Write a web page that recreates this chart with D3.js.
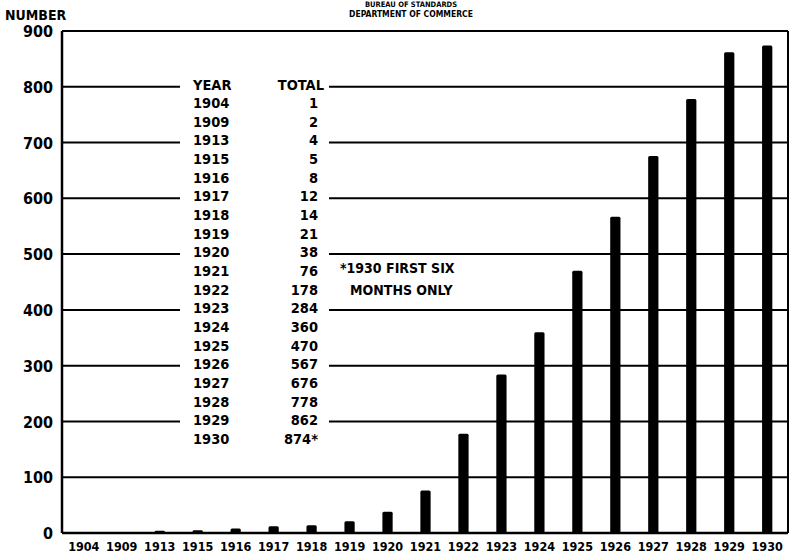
<!DOCTYPE html>
<html>
<head>
<meta charset="utf-8">
<script src="https://cdn.jsdelivr.net/npm/d3@7/dist/d3.min.js"></script>
<style>
  html, body { margin: 0; padding: 0; background: #fff; }
  svg text { font-family: "DejaVu Sans Condensed", "Liberation Sans Narrow", sans-serif; font-weight: bold; fill: #000; }
</style>
</head>
<body>
<svg id="chart" width="797" height="557"></svg>
<script>
// Radio broadcasting stations licensed per year (1930: first six months only)
const years = ["1904","1909","1913","1915","1916","1917","1918","1919","1920","1921",
               "1922","1923","1924","1925","1926","1927","1928","1929","1930"];
const totals = [1, 2, 4, 5, 8, 12, 14, 21, 38, 76, 178, 284, 360, 470, 567, 676, 778, 862, 874];
const yTicks = [0, 100, 200, 300, 400, 500, 600, 700, 800, 900];
// gridlines interrupted by the inset table
const brokenLines = [200, 300, 400, 500, 600, 700, 800];

const svg = d3.select("#chart");
const plotLeft = 62, plotRight = 788, plotTop = 31, plotBottom = 533;

const x = d3.scaleBand().domain(years).range([65, 786]).paddingInner(0.73).paddingOuter(0.36);
const y = d3.scaleLinear().domain([0, 900]).range([plotBottom, plotTop]);

// header
svg.append("text").attr("x", 5).attr("y", 20).attr("font-size", 14).text("NUMBER");
svg.append("text").attr("x", 411).attr("y", 6.5).attr("text-anchor", "middle").attr("font-size", 7.5).text("BUREAU OF STANDARDS");
svg.append("text").attr("x", 411).attr("y", 17).attr("text-anchor", "middle").attr("font-size", 8.5).text("DEPARTMENT OF COMMERCE");

// gridlines
const g = svg.append("g").attr("stroke", "#000").attr("stroke-width", 2);
yTicks.filter(v => v > 0).forEach(v => {
  if (brokenLines.includes(v)) {
    g.append("line").attr("x1", plotLeft).attr("x2", 180).attr("y1", y(v)).attr("y2", y(v));
    g.append("line").attr("x1", 329).attr("x2", plotRight).attr("y1", y(v)).attr("y2", y(v));
  } else {
    g.append("line").attr("x1", plotLeft).attr("x2", plotRight).attr("y1", y(v)).attr("y2", y(v));
  }
});
// frame: left axis, right edge, baseline
g.append("line").attr("x1", plotLeft).attr("x2", plotLeft).attr("y1", plotTop).attr("y2", plotBottom).attr("stroke-width", 2.5);
g.append("line").attr("x1", plotRight).attr("x2", plotRight).attr("y1", plotTop).attr("y2", plotBottom).attr("stroke-width", 2);
g.append("line").attr("x1", plotLeft).attr("x2", plotRight).attr("y1", plotBottom).attr("y2", plotBottom).attr("stroke-width", 2.5);

// y axis labels
const yAxis = d3.axisLeft(y).tickValues(yTicks).tickSize(0).tickPadding(9).tickFormat(d3.format("d"));
const ya = svg.append("g").attr("transform", `translate(${plotLeft},0)`).call(yAxis);
ya.select(".domain").remove();
ya.selectAll("text").attr("font-size", 16).attr("dy", "0.35em");

// bars
svg.append("g").selectAll("rect").data(totals).join("rect")
  .attr("x", (d, i) => x(years[i]))
  .attr("y", d => y(d))
  .attr("width", x.bandwidth())
  .attr("height", d => plotBottom - y(d))
  .attr("rx", 1.5)
  .attr("fill", "#000");

// x axis labels
const xAxis = d3.axisBottom(x).tickSize(0).tickPadding(9);
const xa = svg.append("g").attr("transform", `translate(0,${plotBottom})`).call(xAxis);
xa.select(".domain").remove();
xa.selectAll("text").attr("font-size", 12.5).attr("dy", "0.7em");

// inset table
const t = svg.append("g").attr("font-size", 14.5);
const rowY = d3.scaleLinear().domain([0, years.length - 1]).range([103, 439]);
t.append("text").attr("x", 193).attr("y", 85).attr("dy", "0.35em").text("YEAR");
t.append("text").attr("x", 324).attr("y", 85).attr("dy", "0.35em").attr("text-anchor", "end").text("TOTAL");
years.forEach((yr, i) => {
  t.append("text").attr("x", 193).attr("y", rowY(i)).attr("dy", "0.35em").text(yr);
  t.append("text").attr("x", 318).attr("y", rowY(i)).attr("dy", "0.35em").attr("text-anchor", "end")
    .text(totals[i] + (yr === "1930" ? "*" : ""));
});

// footnote
svg.append("text").attr("x", 340).attr("y", 268).attr("dy", "0.35em").attr("font-size", 14).text("*1930 FIRST SIX");
svg.append("text").attr("x", 350).attr("y", 290).attr("dy", "0.35em").attr("font-size", 14).text("MONTHS ONLY");
</script>
</body>
</html>
